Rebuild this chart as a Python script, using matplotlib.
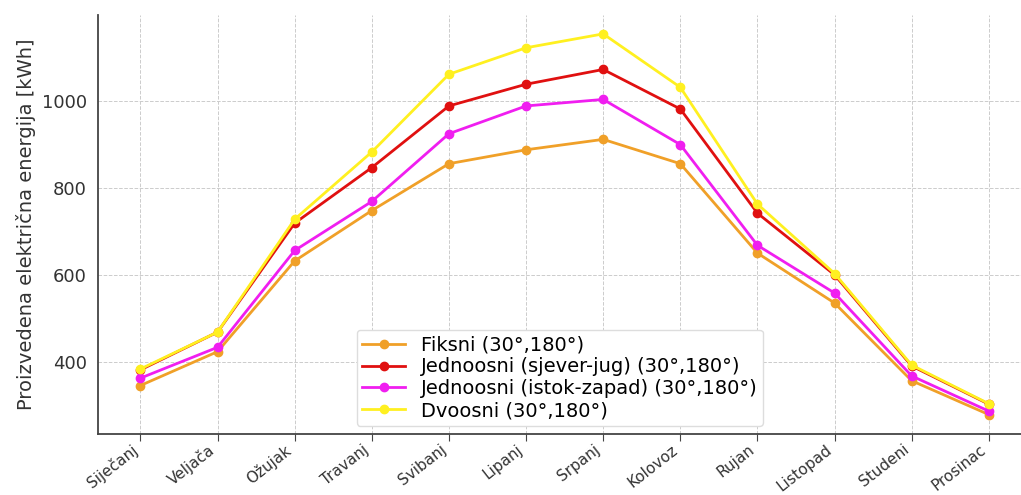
import matplotlib
matplotlib.use("Agg")
import matplotlib.pyplot as plt

# Months (Croatian names)
mjeseci = ["Siječanj", "Veljača", "Ožujak", "Travanj", "Svibanj", "Lipanj",
           "Srpanj", "Kolovoz", "Rujan", "Listopad", "Studeni", "Prosinac"]

# Monthly production [kWh]
fiksni = [345, 423, 632, 748, 856, 888, 912, 856, 650, 535, 356, 278]
jednoosni_sj = [381, 468, 719, 847, 989, 1039, 1073, 982, 742, 600, 390, 302]
jednoosni_iz = [362, 433, 656, 769, 925, 989, 1004, 900, 668, 558, 367, 286]
dvoosni = [383, 468, 728, 883, 1062, 1123, 1155, 1032, 763, 603, 392, 303]

serije = [
    ("Fiksni (30°,180°)", fiksni, "#F0A028"),
    ("Jednoosni (sjever-jug) (30°,180°)", jednoosni_sj, "#E01010"),
    ("Jednoosni (istok-zapad) (30°,180°)", jednoosni_iz, "#F01EF0"),
    ("Dvoosni (30°,180°)", dvoosni, "#FFF020"),
]

fig = plt.figure(figsize=(10.21, 4.95), dpi=100)
ax = fig.add_axes([0.096, 0.124, 0.914, 0.846])

x = list(range(len(mjeseci)))
for naziv, vrijednosti, boja in serije:
    ax.plot(x, vrijednosti, marker="o", markersize=6, linewidth=2,
            color=boja, label=naziv)

ax.set_xticks(x)
ax.set_xticklabels(mjeseci, rotation=38, ha="right", fontsize=11,
                   color="#333333")
ax.set_yticks([400, 600, 800, 1000])
ax.tick_params(axis="y", labelsize=13, length=0, labelcolor="#333333", pad=8)
ax.tick_params(axis="x", length=5, color="#444444", pad=1)
ax.set_ylabel("Proizvedena električna energija [kWh]", fontsize=14,
              color="#333333")

ax.grid(True, linestyle="--", linewidth=0.7, color="#cccccc")
ax.set_axisbelow(True)
for s in ["top", "right"]:
    ax.spines[s].set_visible(False)
for s in ["left", "bottom"]:
    ax.spines[s].set_color("#444444")
    ax.spines[s].set_linewidth(1.3)

ax.legend(loc="lower center", bbox_to_anchor=(0.495, -0.005), fontsize=14,
          frameon=True, framealpha=1.0, edgecolor="#dddddd",
          handlelength=2.2, borderpad=0.3, labelspacing=0.15)

fig.savefig("out.png", dpi=100)
